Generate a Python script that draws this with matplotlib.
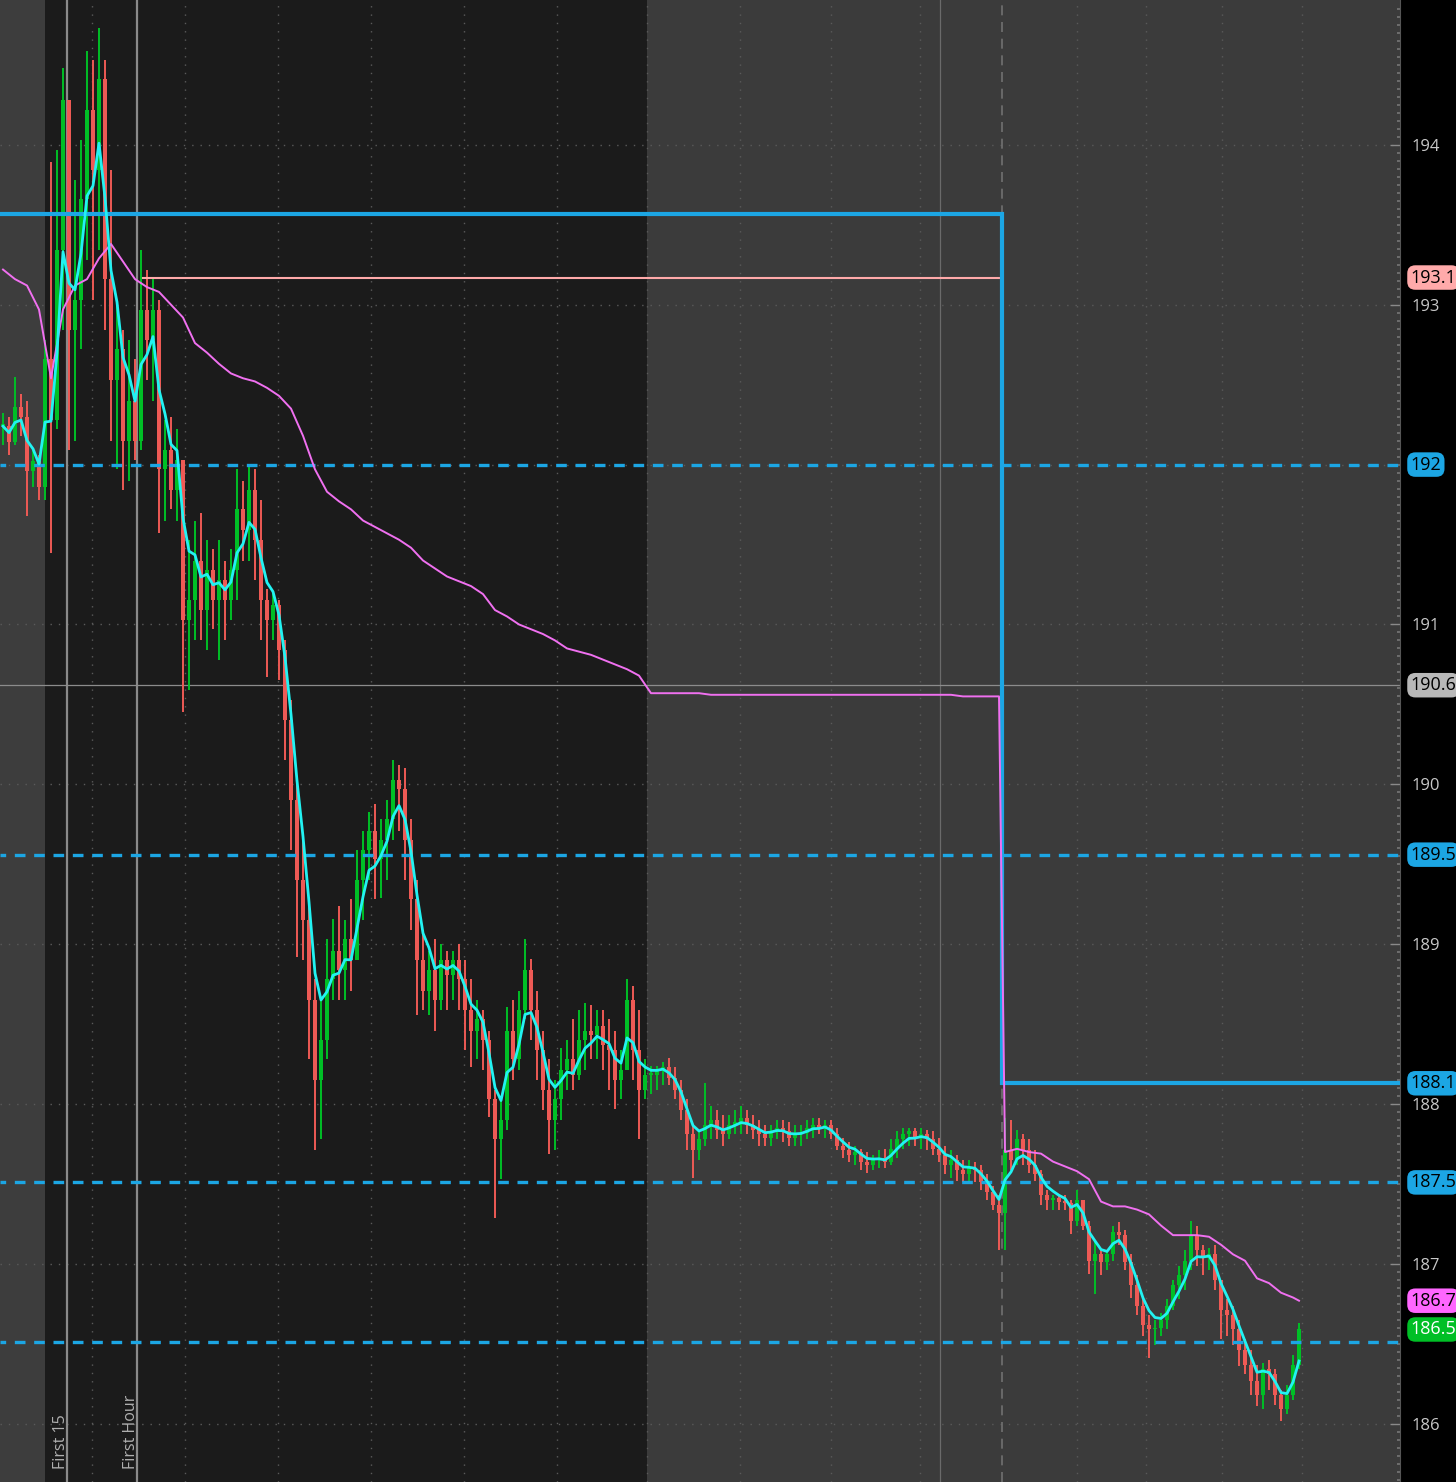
import numpy as np
import pandas as pd
import matplotlib
matplotlib.use("Agg")
import matplotlib.pyplot as plt

plt.rcParams["font.family"] = ["Open Sans", "DejaVu Sans"]

# one entry per candle, bar 0 = first pre-market candle on the chart
highs = [
    192.32, 192.30, 192.55, 192.44, 192.40, 192.10, 192.06, 192.78, 193.89, 193.97,
    194.48, 194.28, 193.78, 194.03, 194.59, 194.53, 194.73, 194.53, 193.84, 193.03,
    192.84, 192.78, 192.66, 193.34, 193.22, 193.16, 193.03, 192.28, 192.30, 192.22,
    192.03, 191.53, 191.65, 191.70, 191.53, 191.47, 191.53, 191.40, 191.47, 191.97,
    191.90, 192.00, 191.97, 191.78, 191.22, 191.19, 191.15, 190.90, 190.53, 190.03,
    189.65, 189.28, 188.78, 188.65, 189.03, 189.16, 189.24, 189.15, 189.28, 189.59,
    189.71, 189.83, 189.88, 189.78, 189.90, 190.15, 190.12, 190.10, 189.78, 189.40,
    189.09, 188.96, 189.03, 189.00, 188.96, 188.96, 189.00, 188.90, 188.78, 188.65,
    188.59, 188.46, 188.09, 188.03, 188.61, 188.65, 188.71, 189.03, 188.91, 188.71,
    188.46, 188.28, 188.15, 188.35, 188.40, 188.53, 188.59, 188.63, 188.62, 188.59,
    188.59, 188.53, 188.46, 188.34, 188.78, 188.74, 188.59, 188.28, 188.24, 188.24,
    188.26, 188.29, 188.23, 188.15, 188.03, 187.87, 187.84, 188.13, 187.99, 187.96,
    187.93, 187.93, 187.96, 187.99, 187.96, 187.93, 187.90, 187.87, 187.87, 187.90,
    187.90, 187.89, 187.87, 187.87, 187.90, 187.91, 187.91, 187.90, 187.90, 187.85,
    187.79, 187.76, 187.74, 187.72, 187.70, 187.68, 187.71, 187.72, 187.78, 187.83,
    187.85, 187.85, 187.85, 187.85, 187.84, 187.83, 187.79, 187.74, 187.71, 187.68,
    187.65, 187.65, 187.64, 187.62, 187.56, 187.49, 187.43, 187.91, 187.90, 187.84,
    187.81, 187.78, 187.71, 187.59, 187.46, 187.43, 187.43, 187.43, 187.40, 187.46,
    187.40, 187.27, 187.15, 187.09, 187.09, 187.24, 187.26, 187.21, 187.06, 186.93,
    186.78, 186.68, 186.65, 186.69, 186.78, 186.90, 186.99, 187.09, 187.27, 187.24,
    187.12, 187.10, 187.12, 186.90, 186.78, 186.74, 186.65, 186.53, 186.46, 186.37,
    186.38, 186.40, 186.34, 186.21, 186.24, 186.43, 186.63,
]
lows = [
    192.12, 192.06, 192.12, 192.18, 191.68, 191.86, 191.78, 191.78, 191.45, 192.22,
    192.84, 192.09, 192.15, 192.72, 193.28, 193.03, 193.34, 192.84, 192.15, 191.97,
    191.84, 191.90, 192.03, 192.09, 192.53, 192.40, 191.57, 191.65, 191.72, 191.65,
    190.45, 190.59, 190.90, 190.90, 190.84, 190.97, 190.78, 190.90, 191.03, 191.15,
    191.40, 191.40, 191.28, 190.90, 190.67, 190.90, 190.65, 190.15, 189.59, 188.92,
    188.90, 188.28, 187.71, 187.78, 188.28, 188.65, 188.65, 188.65, 188.71, 188.90,
    189.15, 189.40, 189.28, 189.29, 189.40, 189.65, 189.71, 189.40, 189.09, 188.56,
    188.59, 188.56, 188.46, 188.59, 188.59, 188.65, 188.59, 188.34, 188.23, 188.28,
    188.21, 187.92, 187.29, 187.53, 187.84, 188.15, 188.21, 188.53, 188.40, 188.15,
    187.96, 187.69, 187.71, 187.90, 188.09, 188.09, 188.15, 188.21, 188.28, 188.28,
    188.21, 188.09, 187.97, 188.03, 188.21, 188.15, 187.78, 188.03, 188.06, 188.09,
    188.12, 188.12, 188.03, 187.90, 187.71, 187.54, 187.65, 187.74, 187.78, 187.78,
    187.74, 187.78, 187.81, 187.81, 187.81, 187.78, 187.74, 187.74, 187.74, 187.78,
    187.76, 187.74, 187.74, 187.74, 187.78, 187.79, 187.81, 187.79, 187.78, 187.71,
    187.66, 187.64, 187.62, 187.59, 187.57, 187.59, 187.60, 187.60, 187.62, 187.66,
    187.72, 187.74, 187.74, 187.72, 187.71, 187.68, 187.64, 187.56, 187.54, 187.52,
    187.51, 187.52, 187.51, 187.46, 187.40, 187.34, 187.09, 187.09, 187.59, 187.62,
    187.62, 187.57, 187.52, 187.37, 187.34, 187.34, 187.34, 187.34, 187.19, 187.24,
    187.21, 186.94, 186.81, 186.93, 186.96, 187.02, 187.12, 186.96, 186.79, 186.68,
    186.55, 186.41, 186.49, 186.55, 186.59, 186.71, 186.78, 186.84, 186.96, 186.99,
    186.93, 186.96, 186.84, 186.53, 186.55, 186.49, 186.36, 186.31, 186.18, 186.11,
    186.09, 186.21, 186.12, 186.02, 186.06, 186.15, 186.34,
]
closes = [
    192.24, 192.14, 192.36, 192.30, 191.96, 192.02, 191.86, 192.66, 192.28, 193.34,
    194.28, 192.84, 193.03, 193.66, 194.22, 193.84, 194.41, 193.16, 192.53, 192.72,
    192.15, 192.40, 192.15, 192.97, 192.78, 192.97, 191.97, 192.09, 191.84, 192.03,
    191.03, 191.15, 191.40, 191.09, 191.34, 191.15, 191.28, 191.15, 191.34, 191.72,
    191.59, 191.84, 191.53, 191.15, 191.03, 191.12, 190.84, 190.40, 189.90, 189.40,
    189.15, 188.65, 188.15, 188.40, 188.78, 188.96, 188.84, 189.03, 188.90, 189.40,
    189.59, 189.71, 189.53, 189.65, 189.78, 190.03, 189.97, 189.65, 189.28, 188.90,
    188.71, 188.84, 188.65, 188.90, 188.81, 188.90, 188.78, 188.59, 188.46, 188.53,
    188.40, 188.03, 187.78, 187.90, 188.46, 188.28, 188.59, 188.84, 188.59, 188.34,
    188.09, 187.90, 188.03, 188.21, 188.28, 188.18, 188.40, 188.46, 188.43, 188.49,
    188.37, 188.34, 188.15, 188.21, 188.65, 188.34, 188.09, 188.18, 188.18, 188.21,
    188.23, 188.16, 188.09, 187.96, 187.81, 187.71, 187.78, 187.87, 187.90, 187.84,
    187.81, 187.87, 187.89, 187.91, 187.87, 187.84, 187.81, 187.79, 187.83, 187.85,
    187.83, 187.79, 187.81, 187.82, 187.85, 187.87, 187.85, 187.87, 187.81, 187.74,
    187.71, 187.68, 187.70, 187.64, 187.62, 187.65, 187.66, 187.64, 187.72, 187.78,
    187.81, 187.83, 187.79, 187.81, 187.78, 187.72, 187.68, 187.62, 187.65, 187.59,
    187.56, 187.60, 187.59, 187.51, 187.45, 187.37, 187.32, 187.71, 187.65, 187.78,
    187.71, 187.62, 187.56, 187.43, 187.40, 187.41, 187.39, 187.38, 187.27, 187.40,
    187.24, 187.02, 187.06, 187.01, 187.06, 187.20, 187.18, 187.01, 186.87, 186.74,
    186.62, 186.59, 186.60, 186.65, 186.74, 186.87, 186.93, 187.02, 187.18, 187.09,
    187.04, 187.06, 186.90, 186.71, 186.68, 186.59, 186.46, 186.37, 186.27, 186.18,
    186.34, 186.31, 186.18, 186.09, 186.18, 186.37, 186.59,
]

# vwap read every other bar (resets at the new day)
vwap_bars = np.r_[0:167:2, 167:216:2, 216]
vwap = [
    193.22, 193.16, 193.12, 192.97, 192.54, 192.97, 193.12, 193.16, 193.29, 193.38,
    193.27, 193.16, 193.11, 193.08, 193.00, 192.92, 192.76, 192.70, 192.63, 192.57,
    192.54, 192.52, 192.48, 192.43, 192.35, 192.18, 191.97, 191.83, 191.77, 191.72,
    191.65, 191.61, 191.57, 191.53, 191.48, 191.40, 191.35, 191.30, 191.27, 191.24,
    191.19, 191.09, 191.05, 191.00, 190.97, 190.94, 190.90, 190.85, 190.83, 190.81,
    190.78, 190.75, 190.72, 190.68, 190.57, 190.57, 190.57, 190.57, 190.57, 190.56,
    190.56, 190.56, 190.56, 190.56, 190.56, 190.56, 190.56, 190.56, 190.56, 190.56,
    190.56, 190.56, 190.56, 190.56, 190.56, 190.56, 190.56, 190.56, 190.56, 190.56,
    190.55, 190.55, 190.55, 190.55,
    187.70, 187.72, 187.70, 187.69, 187.64, 187.61, 187.58, 187.53, 187.39, 187.36,
    187.36, 187.34, 187.31, 187.24, 187.18, 187.18, 187.18, 187.17, 187.12, 187.06,
    187.02, 186.91, 186.88, 186.82, 186.79, 186.77,
]

dashed_levels = [192.0, 189.56, 187.51, 186.51]
# only the first three dashed levels carry a price tag on the axis
dashed_text = ["192", "189.5", "187.5"]
range_high = 193.57
range_low = 188.13
prev_high = 193.17
prev_close = 190.62
price_ticks = [186, 187, 188, 189, 190, 191, 193, 194]

# session marks (in bars)
pre_end = 7.0
first15 = 10.67
first_hour = 22.33
rth_end = 107.33
late_line = 156.17
new_day = 166.5
grid_bars = [14.83, 30.33, 45.83, 61.33, 76.83, 92.33, 107.33, 122.83, 138.0,
             152.83, 179.0, 190.5, 203.17, 216.5]

BLUE = "#1ca6e4"
GREEN = "#00bf26"
RED = "#ee5a55"

closes = np.array(closes)
highs = np.array(highs)
lows = np.array(lows)
opens = np.r_[closes[0], closes[:-1]]
idx = np.arange(len(closes))
ema = pd.Series(closes).ewm(span=4, adjust=False).mean()

fig = plt.figure(figsize=(14.56, 14.82), dpi=100, facecolor="black")
ax = fig.add_axes([0, 0, 1400 / 1456, 1])
ax.set_facecolor("#1b1b1b")
x0, x1 = -0.5, 232.83
ax.set_xlim(x0, x1)
ax.set_ylim(185.636, 194.906)

ax.axvspan(x0, pre_end, color="#3d3d3d", lw=0, zorder=0)
ax.axvspan(rth_end, x1, color="#3b3b3b", lw=0, zorder=0)

for p in range(186, 195):
    ax.axhline(p, color="#5a5a5a", lw=1, ls=(0, (1, 5)), zorder=1)
for g in grid_bars:
    ax.axvline(g, color="#5a5a5a", lw=1, ls=(0, (1, 5)), zorder=1)

ax.axvline(first15, color="#8a8a8a", lw=1.6, zorder=1)
ax.axvline(first_hour, color="#8a8a8a", lw=1.6, zorder=1)
ax.axvline(late_line, color="#6a6a6a", lw=0.9, zorder=1)
ax.axvline(new_day, color="#707070", lw=1.2, ls=(0, (6, 4)), zorder=1)
ax.axhline(prev_close, color="#8c8c8c", lw=0.9, zorder=1)

# candles
cols = np.where(closes >= opens, GREEN, RED)
ax.vlines(idx, lows, highs, colors=cols, lw=1.4, zorder=2)
body = np.maximum(np.abs(closes - opens), 0.012)
ax.bar(idx, body, bottom=np.minimum(opens, closes), width=0.72, color=cols,
       lw=0, zorder=2)

for lvl in dashed_levels:
    ax.axhline(lvl, color=BLUE, lw=2.4, ls=(1.5, (3.2, 2.6)), zorder=3)

ax.plot([x0, new_day, new_day, x1], [range_high, range_high, range_low, range_low],
        color=BLUE, lw=3, zorder=4, solid_joinstyle="miter")
ax.plot([23.33, new_day], [prev_high, prev_high], color="#ffaaaa", lw=1.5,
        zorder=3)

ax.plot(vwap_bars, vwap, color="#f070f0", lw=1.4, zorder=4)
ax.plot(idx, ema, color="#22f2f2", lw=2.0, zorder=5)

ax.text(first15 - 1.0, 0.009, "First 15", rotation=90, ha="center", va="bottom",
        color="#b0b0b0", fontsize=11.5, transform=ax.get_xaxis_transform())
ax.text(first_hour - 1.0, 0.009, "First Hour", rotation=90, ha="center",
        va="bottom", color="#b0b0b0", fontsize=11.5,
        transform=ax.get_xaxis_transform())

# axis
for s in ["top", "bottom", "left"]:
    ax.spines[s].set_visible(False)
ax.spines["right"].set_color("#555555")
ax.set_xticks([])
ax.yaxis.tick_right()
ax.set_yticks(price_ticks)
ax.set_yticklabels([str(t) for t in price_ticks])
ax.set_yticks(np.arange(185.65, 194.9, 0.05), minor=True)
ax.tick_params(axis="y", which="major", direction="in", length=7, width=1,
               color="#8a8a8a", labelcolor="#c8c8c8", labelsize=12, pad=8)
ax.tick_params(axis="y", which="minor", direction="in", length=2, width=1.2,
               color="#777777")

labels = [("193.1", prev_high, "#ffaaaa", "black"),
          ("190.6", prev_close, "#b8b8b8", "black"),
          ("188.1", range_low, BLUE, "black"),
          ("186.7", vwap[-1], "#ff66ff", "black"),
          ("186.5", closes[-1], GREEN, "white")]
labels += [(t, lvl, BLUE, "black") for t, lvl in zip(dashed_text, dashed_levels)]
for txt, y, fc, tc in labels:
    ax.text(1.0075, y, txt, transform=ax.get_yaxis_transform(), ha="left",
            va="center", fontsize=13, color=tc, clip_on=False, zorder=6,
            bbox=dict(boxstyle="round,pad=0.18,rounding_size=0.45", fc=fc,
                      ec="none"))

fig.savefig("out.png", dpi=100, facecolor="black")
